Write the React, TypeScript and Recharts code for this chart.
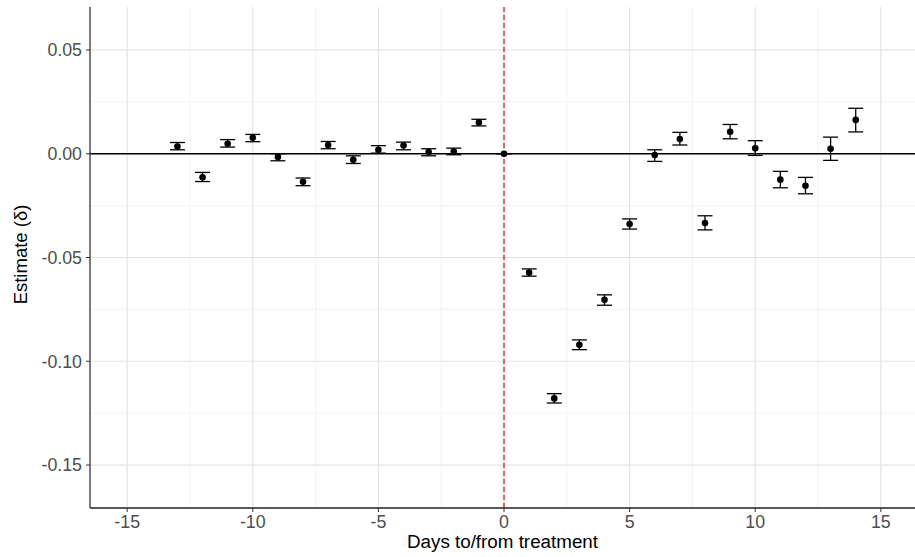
import React from 'react';
import {
  CartesianGrid,
  ComposedChart,
  ErrorBar,
  ReferenceLine,
  Scatter,
  XAxis,
  YAxis,
} from 'recharts';

// event-study estimates
const days = [-13, -12, -11, -10, -9, -8, -7, -6, -5, -4, -3, -2, -1, 0, 1, 2, 3, 4, 5, 6, 7, 8, 9, 10, 11, 12, 13, 14];
const estimates = [
  0.0035, -0.0113, 0.0048, 0.0077, -0.0016, -0.0135, 0.0042, -0.0029, 0.0019, 0.004, 0.0008, 0.0011, 0.015, 0,
  -0.0573, -0.1179, -0.0921, -0.0704, -0.0339, -0.0006, 0.0071, -0.0334, 0.0106, 0.0026, -0.0125, -0.0154, 0.0024, 0.0163,
];
const lower = [
  0.0019, -0.0134, 0.0032, 0.0058, -0.0034, -0.0154, 0.0024, -0.0047, 0.0003, 0.0019, -0.001, -0.0005, 0.0134, 0,
  -0.059, -0.1201, -0.0944, -0.073, -0.0363, -0.0037, 0.0042, -0.0367, 0.0072, -0.0008, -0.0164, -0.0193, -0.0032, 0.0105,
];
const upper = [
  0.0054, -0.009, 0.0068, 0.0093, 0.0, -0.0117, 0.0059, -0.001, 0.0039, 0.0056, 0.0024, 0.0027, 0.0166, 0,
  -0.0555, -0.1156, -0.0897, -0.068, -0.0314, 0.0019, 0.0103, -0.0299, 0.0141, 0.0063, -0.0085, -0.0114, 0.008, 0.0219,
];

const xTicks = [-15, -10, -5, 0, 5, 10, 15];
const xMinor = [-12.5, -7.5, -2.5, 2.5, 7.5, 12.5];
const yTicks = [-0.15, -0.1, -0.05, 0, 0.05];
const yMinor = [-0.125, -0.075, -0.025, 0.025];

interface Row {
  day: number;
  est: number;
  err: [number, number];
}

const rows: Row[] = days.map((day, i) => ({
  day,
  est: estimates[i],
  err: [estimates[i] - lower[i], upper[i] - estimates[i]],
}));

const FONT = '"Liberation Sans", Arial, Helvetica, sans-serif';

const Dot = (props: { cx?: number; cy?: number }) => {
  if (typeof props.cx !== 'number' || typeof props.cy !== 'number') return null;
  return <circle cx={props.cx} cy={props.cy} r={3.3} fill="#000" />;
};

const YTitle = (props: { viewBox?: { x: number; y: number; width: number; height: number } }) => {
  const vb = props.viewBox;
  if (!vb) return null;
  const cy = vb.y + vb.height / 2 - 3;
  return (
    <text
      x={27}
      y={cy}
      transform={`rotate(-90, 27, ${cy})`}
      textAnchor="middle"
      fontFamily={FONT}
      fontSize={18.5}
      fill="#000"
    >
      Estimate (δ)
    </text>
  );
};

export default function App() {
  return (
    <div style={{ position: 'absolute', left: 0, top: 0, width: 915, height: 557, background: '#fff' }}>
      <ComposedChart width={915} height={557} data={rows} margin={{ top: 7, right: 0, bottom: 0, left: 0 }}>
        <CartesianGrid stroke="#EFEFEF" strokeWidth={0.7} horizontalValues={yMinor} verticalValues={xMinor} />
        <CartesianGrid stroke="#E4E4E4" strokeWidth={1.2} horizontalValues={yTicks} verticalValues={xTicks} />
        <XAxis
          type="number"
          dataKey="day"
          domain={[-16.48, 16.36]}
          ticks={xTicks}
          allowDataOverflow
          height={49}
          tickSize={4}
          tickMargin={3}
          axisLine={{ stroke: '#222', strokeWidth: 1.3 }}
          tickLine={{ stroke: '#333' }}
          tick={{ fill: '#4D4D4D', fontSize: 17.8, fontFamily: FONT }}
          label={{
            value: 'Days to/from treatment',
            position: 'insideBottom',
            offset: 9,
            fill: '#000',
            fontSize: 18.8,
            fontFamily: FONT,
          }}
        />
        <YAxis
          type="number"
          domain={[-0.1707, 0.0707]}
          ticks={yTicks}
          allowDataOverflow
          width={90}
          tickSize={4}
          tickMargin={4}
          tickFormatter={(v: number) => v.toFixed(2)}
          axisLine={{ stroke: '#333', strokeWidth: 1.3 }}
          tickLine={{ stroke: '#333' }}
          tick={{ fill: '#4D4D4D', fontSize: 17.8, fontFamily: FONT }}
          label={<YTitle />}
        />
        <ReferenceLine y={0} stroke="#000" strokeWidth={1.3} />
        <ReferenceLine x={0} stroke="#CC1A1A" strokeWidth={1.3} strokeDasharray="5 3" />
        <Scatter dataKey="est" shape={<Dot />} isAnimationActive={false}>
          <ErrorBar dataKey="err" direction="y" width={7.5} stroke="#000" strokeWidth={1.3} isAnimationActive={false} />
        </Scatter>
      </ComposedChart>
    </div>
  );
}
